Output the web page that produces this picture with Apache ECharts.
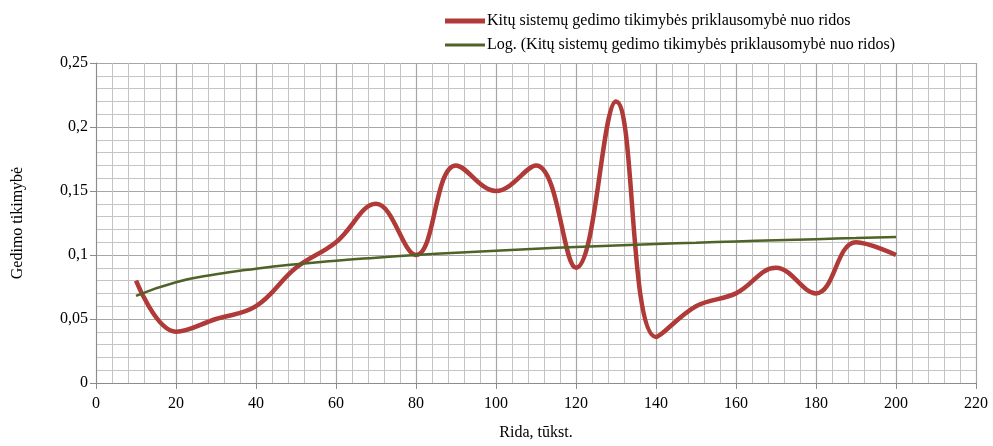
<!DOCTYPE html>
<html>
<head>
<meta charset="utf-8">
<script src="https://cdn.jsdelivr.net/npm/echarts@6/dist/echarts.min.js"></script>
<style>html,body{margin:0;padding:0;background:#fff}#c{width:993px;height:446px}</style>
</head>
<body>
<div id="c"></div>
<script>
var ridos = [10,20,30,40,50,60,70,80,90,100,110,120,130,140,150,160,170,180,190,200];
var tikimybe = [0.08,0.04,0.05,0.06,0.09,0.11,0.14,0.10,0.17,0.15,0.17,0.09,0.22,0.036,0.06,0.07,0.09,0.07,0.11,0.10];
var trendas = [0.0681,0.0787,0.0849,0.0893,0.0928,0.0956,0.0979,0.1000,0.1018,0.1034,0.1049,0.1062,0.1074,0.1086,0.1096,0.1106,0.1115,0.1124,0.1132,0.1140];
var seriesName1 = 'Kitų sistemų gedimo tikimybės priklausomybė nuo ridos';
var seriesName2 = 'Log. (Kitų sistemų gedimo tikimybės priklausomybė nuo ridos)';

var font = "'Liberation Serif', 'Times New Roman', serif";
var chart = echarts.init(document.getElementById('c'));
function pairs(xs, ys){ return xs.map(function(x,i){ return [x, ys[i]]; }); }
chart.setOption({
  animation: false,
  textStyle: {fontFamily: font},
  legend: {
    orient: 'vertical', left: 440, top: 8, itemWidth: 40, itemHeight: 14, itemGap: 8,
    textStyle: {fontFamily: font, fontSize: 16, color: '#000', padding: [0,0,0,-3]},
    data: [
      {name: seriesName1, icon: 'path://M0,0 L40,0 L40,5 L0,5 Z', itemStyle:{color:'#B03A37'}},
      {name: seriesName2, icon: 'path://M0,0 L40,0 L40,3 L0,3 Z', itemStyle:{color:'#4F6228'}}
    ]
  },
  grid: {left: 96, right: 17, top: 63, bottom: 60},
  xAxis: {
    type: 'value', min: 0, max: 220, interval: 20,
    name: 'Rida, tūkst.', nameLocation: 'middle', nameGap: 42,
    nameTextStyle: {fontFamily: font, fontSize: 16, color: '#000'},
    axisLine: {lineStyle: {color: '#8c8c8c', width: 1}},
    axisTick: {show: true, length: 6, lineStyle: {color: '#8c8c8c'}},
    axisLabel: {fontFamily: font, fontSize: 16, color: '#000', margin: 13},
    splitLine: {lineStyle: {color: '#a6a6a6', width: 1.2}},
    minorTick: {show: false, splitNumber: 5},
    minorSplitLine: {show: true, lineStyle: {color: '#c4c4c4', width: 1}}
  },
  yAxis: {
    type: 'value', min: 0, max: 0.25, interval: 0.05,
    name: 'Gedimo tikimybė', nameLocation: 'middle', nameGap: 70,
    nameTextStyle: {fontFamily: font, fontSize: 16, color: '#000'},
    axisLine: {show: true, lineStyle: {color: '#8c8c8c', width: 1}},
    axisTick: {show: true, length: 6, lineStyle: {color: '#8c8c8c'}},
    axisLabel: {fontFamily: font, fontSize: 16, color: '#000', margin: 8,
      formatter: function(v){ return String(+v.toFixed(2)).replace('.', ','); }},
    splitLine: {lineStyle: {color: '#a6a6a6', width: 1.2}},
    minorTick: {show: false, splitNumber: 5},
    minorSplitLine: {show: true, lineStyle: {color: '#c4c4c4', width: 1}}
  },
  series: [
    {name: seriesName1, type: 'line', data: pairs(ridos, tikimybe), smooth: 0.4,
     symbol: 'none', lineStyle: {color: '#B03A37', width: 4.5}, itemStyle:{color:'#B03A37'}, z: 3},
    {name: seriesName2, type: 'line', data: pairs(ridos, trendas), smooth: true,
     symbol: 'none', lineStyle: {color: '#4F6228', width: 2.5}, itemStyle:{color:'#4F6228'}, z: 4}
  ]
});
</script>
</body>
</html>
